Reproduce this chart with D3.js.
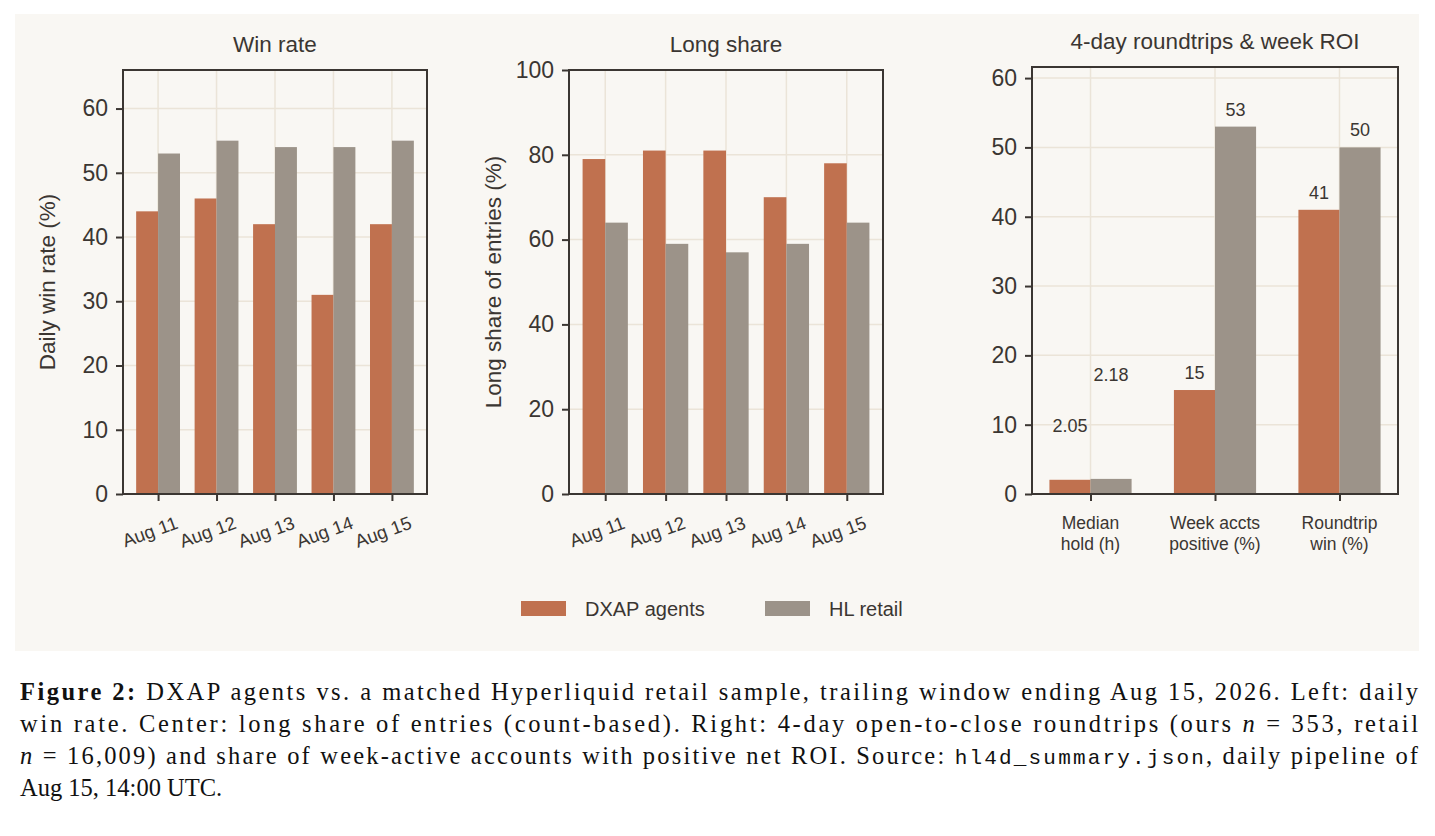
<!DOCTYPE html>
<html>
<head>
<meta charset="utf-8">
<script src="https://cdn.jsdelivr.net/npm/d3@7"></script>
<style>
  body { margin: 0; background: #fff; }
  svg { display: block; }
</style>
</head>
<body>
<div id="chart"></div>
<script>
(function () {
  const days = ["Aug 11", "Aug 12", "Aug 13", "Aug 14", "Aug 15"];
  const winAgents = [44, 46, 42, 31, 42];
  const winRetail = [53, 55, 54, 54, 55];
  const longAgents = [79, 81, 81, 70, 78];
  const longRetail = [64, 59, 57, 59, 64];
  const rtCategories = [["Median", "hold (h)"], ["Week accts", "positive (%)"], ["Roundtrip", "win (%)"]];
  const rtAgents = [2.05, 15, 41];
  const rtRetail = [2.18, 53, 50];
  const rtAgentLabels = ["2.05", "15", "41"];
  const rtRetailLabels = ["2.18", "53", "50"];
  // label lift above bar (value units) — median hold labels sit higher
  const rtAgentLift = [6.3, 1, 1];
  const rtRetailLift = [13.6, 1, 1];

  const ColourA = "#c0714f";
  const ColourB = "#9c9389";
  const axisCol = "#3b3632";
  const gridCol = "#ebe4d8";
  const font = "'Liberation Sans', Arial, sans-serif";

  const svg = d3.select("#chart").append("svg").attr("width", 1435).attr("height", 836);
  svg.append("rect").attr("x", 15).attr("y", 14).attr("width", 1404).attr("height", 637).attr("fill", "#f9f7f3");

  function panel(opts) {
    const { left, right, top, bottom, yMax, yTicks, n, xPad, barW, a, b, title, yLabel } = opts;
    const g = svg.append("g").attr("font-family", font);
    const x = d3.scaleLinear().domain([-xPad, n - 1 + xPad]).range([left, right]);
    const y = d3.scaleLinear().domain([0, yMax]).range([bottom, top]);

    // grid
    g.append("g").selectAll("line.h").data(yTicks).join("line")
      .attr("x1", left).attr("x2", right).attr("y1", (d) => y(d)).attr("y2", (d) => y(d))
      .attr("stroke", gridCol).attr("stroke-width", 1.5);
    g.append("g").selectAll("line.v").data(d3.range(n)).join("line")
      .attr("y1", top).attr("y2", bottom).attr("x1", (d) => x(d)).attr("x2", (d) => x(d))
      .attr("stroke", gridCol).attr("stroke-width", 1.5);

    const bw = x(barW) - x(0);
    g.selectAll("rect.a").data(a).join("rect")
      .attr("x", (d, i) => x(i) - bw).attr("width", bw)
      .attr("y", (d) => y(d)).attr("height", (d) => bottom - y(d)).attr("fill", ColourA);
    g.selectAll("rect.b").data(b).join("rect")
      .attr("x", (d, i) => x(i)).attr("width", bw)
      .attr("y", (d) => y(d)).attr("height", (d) => bottom - y(d)).attr("fill", ColourB);

    // frame
    g.append("rect").attr("x", left).attr("y", top).attr("width", right - left).attr("height", bottom - top)
      .attr("fill", "none").attr("stroke", axisCol).attr("stroke-width", 2);

    const yAxis = g.append("g").attr("transform", `translate(${left},0)`)
      .call(d3.axisLeft(y).tickValues(yTicks).tickSize(7).tickPadding(8));
    yAxis.select(".domain").remove();
    yAxis.selectAll("line").attr("stroke", axisCol).attr("stroke-width", 2);
    yAxis.selectAll("text").attr("font-family", font).attr("font-size", 23).attr("fill", axisCol);

    const xAxis = g.append("g").attr("transform", `translate(0,${bottom})`)
      .call(d3.axisBottom(x).tickValues(d3.range(n)).tickSize(7).tickFormat(""));
    xAxis.select(".domain").remove();
    xAxis.selectAll("line").attr("stroke", axisCol).attr("stroke-width", 2);

    g.append("text").attr("x", (left + right) / 2).attr("y", top - 18)
      .attr("text-anchor", "middle").attr("font-size", 22.5).attr("fill", axisCol).text(title);

    if (yLabel) {
      g.append("text").attr("transform", `translate(${left - 68},${(top + bottom) / 2}) rotate(-90)`)
        .attr("text-anchor", "middle").attr("font-size", 22.5).attr("fill", axisCol).text(yLabel);
    }
    return { g, x, y, bw };
  }

  function dayLabels(p) {
    p.g.selectAll("text.day").data(days).join("text")
      .attr("transform", (d, i) => `translate(${p.x(i) + 21},${p.y(0) + 34}) rotate(-20)`)
      .attr("text-anchor", "end").attr("font-size", 18.5).attr("fill", axisCol).text((d) => d);
  }

  const p1 = panel({ left: 123, right: 427, top: 70, bottom: 494, yMax: 66, yTicks: [0, 10, 20, 30, 40, 50, 60],
    n: 5, xPad: 0.6, barW: 0.375, a: winAgents, b: winRetail, title: "Win rate", yLabel: "Daily win rate (%)" });
  dayLabels(p1);

  const p2 = panel({ left: 569, right: 883, top: 70, bottom: 494, yMax: 100, yTicks: [0, 20, 40, 60, 80, 100],
    n: 5, xPad: 0.6, barW: 0.375, a: longAgents, b: longRetail, title: "Long share", yLabel: "Long share of entries (%)" });
  dayLabels(p2);

  const p3 = panel({ left: 1032, right: 1398, top: 67, bottom: 494, yMax: 61.6, yTicks: [0, 10, 20, 30, 40, 50, 60],
    n: 3, xPad: 0.47, barW: 0.33, a: rtAgents, b: rtRetail, title: "4-day roundtrips & week ROI", yLabel: null });
  p3.g.selectAll("text.cat").data(rtCategories).join("text")
    .attr("x", (d, i) => p3.x(i)).attr("y", 529).attr("text-anchor", "middle")
    .attr("font-size", 17.5).attr("fill", axisCol)
    .selectAll("tspan").data((d) => d).join("tspan")
    .attr("x", function () { return d3.select(this.parentNode).attr("x"); })
    .attr("dy", (d, i) => (i === 0 ? 0 : 21)).text((d) => d);
  p3.g.selectAll("text.la").data(rtAgents).join("text")
    .attr("x", (d, i) => p3.x(i) - p3.bw / 2).attr("y", (d, i) => p3.y(d + rtAgentLift[i]) - 4)
    .attr("text-anchor", "middle").attr("font-size", 18).attr("fill", axisCol).text((d, i) => rtAgentLabels[i]);
  p3.g.selectAll("text.lb").data(rtRetail).join("text")
    .attr("x", (d, i) => p3.x(i) + p3.bw / 2).attr("y", (d, i) => p3.y(d + rtRetailLift[i]) - 4)
    .attr("text-anchor", "middle").attr("font-size", 18).attr("fill", axisCol).text((d, i) => rtRetailLabels[i]);

  // legend
  const legend = [["DXAP agents", ColourA, 521], ["HL retail", ColourB, 765]];
  const lg = svg.append("g").attr("font-family", font);
  legend.forEach(([label, col, lx]) => {
    lg.append("rect").attr("x", lx).attr("y", 601).attr("width", 45).attr("height", 15).attr("fill", col);
    lg.append("text").attr("x", lx + 64).attr("y", 616).attr("font-size", 20).attr("fill", axisCol).text(label);
  });

  // caption
  const cap = svg.append("g").attr("font-family", "'Liberation Serif', 'Times New Roman', serif")
    .attr("font-size", 24.5).attr("fill", "#111");
  const lines = [
    { y: 700, w: 1418, parts: [["Figure 2:", "b"], [" DXAP agents vs. a matched Hyperliquid retail sample, trailing window ending Aug 15, 2026. Left: daily", ""]] },
    { y: 732, w: 1418, parts: [["win rate.  Center: long share of entries (count-based).  Right: 4-day open-to-close roundtrips (ours ", ""], ["n", "i"], [" = 353, retail", ""]] },
    { y: 764, w: 1418, parts: [["n", "i"], [" = 16,009) and share of week-active accounts with positive net ROI. Source: ", ""], ["hl4d_summary.json", "m"], [", daily pipeline of", ""]] },
    { y: 796, w: null, parts: [["Aug 15, 14:00 UTC.", ""]] }
  ];
  lines.forEach((ln) => {
    const t = cap.append("text").attr("x", 20).attr("y", ln.y);
    if (ln.w) t.attr("textLength", ln.w - 20).attr("lengthAdjust", "spacing");
    ln.parts.forEach(([s, st]) => {
      const sp = t.append("tspan").text(s);
      if (st === "b") sp.attr("font-weight", "bold");
      if (st === "i") sp.attr("font-style", "italic");
      if (st === "m") sp.attr("font-family", "'Liberation Mono', monospace").attr("font-size", 21);
    });
  });
})();
</script>
</body>
</html>
